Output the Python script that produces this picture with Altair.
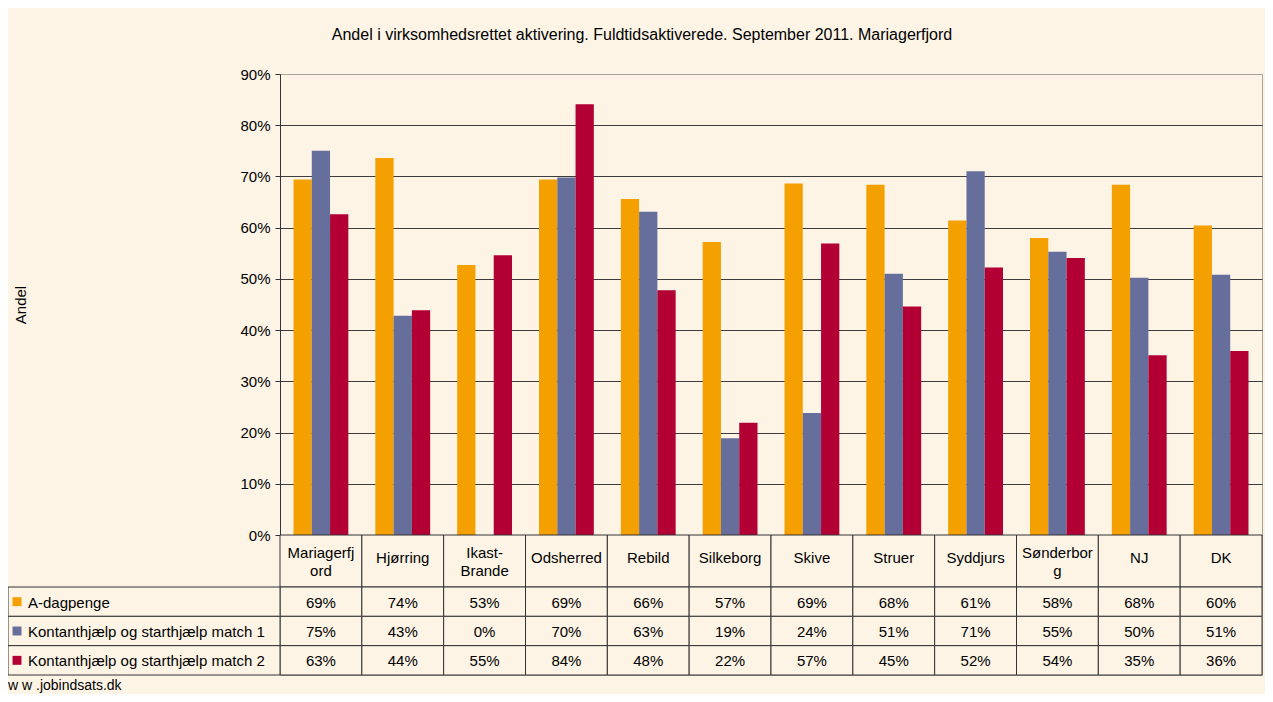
import altair as alt
import pandas as pd

title = "Andel i virksomhedsrettet aktivering. Fuldtidsaktiverede. September 2011. Mariagerfjord"
categories = ["Mariagerfjord", "Hjørring", "Ikast-Brande", "Odsherred", "Rebild", "Silkeborg",
              "Skive", "Struer", "Syddjurs", "Sønderborg", "NJ", "DK"]
header_labels = ["Mariagerfj\nord", "Hjørring", "Ikast-\nBrande", "Odsherred", "Rebild", "Silkeborg",
                 "Skive", "Struer", "Syddjurs", "Sønderbor\ng", "NJ", "DK"]
series = ["A-dagpenge", "Kontanthjælp og starthjælp match 1", "Kontanthjælp og starthjælp match 2"]
colors = ["#F4A000", "#666E9C", "#B30034"]

a_dagpenge = [69.4, 73.6, 52.7, 69.4, 65.6, 57.2, 68.6, 68.4, 61.4, 58.0, 68.4, 60.4]
match1 = [75.0, 42.8, 0.0, 69.8, 63.1, 18.9, 23.8, 51.0, 71.0, 55.3, 50.2, 50.8]
match2 = [62.6, 43.9, 54.6, 84.1, 47.8, 21.9, 56.9, 44.6, 52.2, 54.1, 35.1, 35.9]
y_ticks = [0, 10, 20, 30, 40, 50, 60, 70, 80, 90]
footer = "w w .jobindsats.dk"

FONT = "Liberation Sans"
W, H = 982, 601
BAR_H = 461
HEADER_H = 52
LABEL_W = 272

rows = []
for s, vals in zip(series, [a_dagpenge, match1, match2]):
    for c, v in zip(categories, vals):
        rows.append({"category": c, "series": s, "value": v, "label": f"{int(round(v))}%"})
df = pd.DataFrame(rows)
df_head = pd.DataFrame({"category": categories, "head": header_labels, "part": "h",
                        "multi": ["\n" in h for h in header_labels]})
df_series = pd.DataFrame({"series": series})
df_foot = pd.DataFrame({"t": [footer]})

color_scale = alt.Scale(domain=series, range=colors)
table_x = alt.X("category:N", sort=categories,
                scale=alt.Scale(domain=categories, paddingInner=0, paddingOuter=0), axis=None)
rows_y = alt.Y("series:N", sort=series,
               scale=alt.Scale(domain=series, range=[BAR_H + HEADER_H, H], paddingInner=0, paddingOuter=0),
               axis=None)
head_y = alt.Y("part:N", scale=alt.Scale(domain=["h"], range=[BAR_H, BAR_H + HEADER_H],
                                          paddingInner=0, paddingOuter=0), axis=None)

bars = alt.Chart(df).mark_bar().encode(
    x=alt.X("category:N", sort=categories,
            scale=alt.Scale(domain=categories, paddingInner=0.33, paddingOuter=0.165), axis=None),
    xOffset=alt.XOffset("series:N", sort=series, scale=alt.Scale(domain=series)),
    y=alt.Y("value:Q", scale=alt.Scale(domain=[0, 90], range=[BAR_H, 0]),
            axis=alt.Axis(values=y_ticks, labelExpr="datum.value + '%'", title="Andel",
                          titleX=-260, titleY=BAR_H / 2, titleAngle=-90, titleBaseline="middle",
                          titleFontSize=15, titleFontWeight="normal", titleFont=FONT, titleColor="black",
                          labelFont=FONT, labelFontSize=15, labelColor="black", labelPadding=5,
                          domainColor="#333333", tickColor="#333333", tickSize=5,
                          grid=True,
                          gridColor={"condition": {"test": "datum.value == 90", "value": "#a8a29a"},
                                     "value": "#3c3c3c"})),
    color=alt.Color("series:N", scale=color_scale, legend=None),
)

head_rect = alt.Chart(df_head).mark_rect(fill="#FDF4E6", stroke="#333333", strokeWidth=1).encode(
    x=table_x, y=head_y)
head_text1 = alt.Chart(df_head).transform_filter("!datum.multi").mark_text(
    font=FONT, fontSize=15, color="black", baseline="middle", dy=-3).encode(
    x=table_x, y=head_y, text="head:N")
head_text2 = alt.Chart(df_head).transform_filter("datum.multi").mark_text(
    font=FONT, fontSize=15, color="black", lineBreak="\n", lineHeight=18, baseline="middle", dy=-8).encode(
    x=table_x, y=head_y, text="head:N")

cell_rect = alt.Chart(df).mark_rect(fill="#FDF4E6", stroke="#333333", strokeWidth=1).encode(
    x=table_x, y=rows_y)
cell_text = alt.Chart(df).mark_text(font=FONT, fontSize=15, color="black", baseline="middle", dy=1).encode(
    x=table_x, y=rows_y, text="label:N")

label_rect = alt.Chart(df_series).mark_rect(fill="#FDF4E6", stroke="#333333", strokeWidth=1).encode(
    x=alt.value(-LABEL_W), x2=alt.value(0), y=rows_y)
label_sq = alt.Chart(df_series).mark_point(shape="square", filled=True, size=80, opacity=1).encode(
    x=alt.value(-263), y=rows_y, color=alt.Color("series:N", scale=color_scale, legend=None))
label_text = alt.Chart(df_series).mark_text(font=FONT, fontSize=15, color="black", align="left",
                                            baseline="middle", dy=1).encode(
    x=alt.value(-252), y=rows_y, text="series:N")

foot = alt.Chart(df_foot).mark_text(font=FONT, fontSize=14, color="black", align="left",
                                    baseline="middle").encode(
    x=alt.value(-LABEL_W), y=alt.value(H + 11), text="t:N")

chart = alt.layer(bars, head_rect, cell_rect, label_rect, head_text1, head_text2, cell_text,
                  label_sq, label_text, foot
).resolve_scale(x="independent", y="independent").properties(
    width=W, height=H,
    autosize=alt.AutoSizeParams(type="none"),
    padding={"left": LABEL_W, "top": 66, "right": 3, "bottom": 19},
    title=alt.TitleParams(title, font=FONT, fontSize=16, fontWeight="normal", color="black",
                          anchor="middle", frame="bounds", offset=24, dx=7),
).configure(background="#FDF4E6").configure_view(stroke="#a8a29a", strokeWidth=1)

chart.save("out.html", embed_options={"renderer": "svg", "actions": False})
